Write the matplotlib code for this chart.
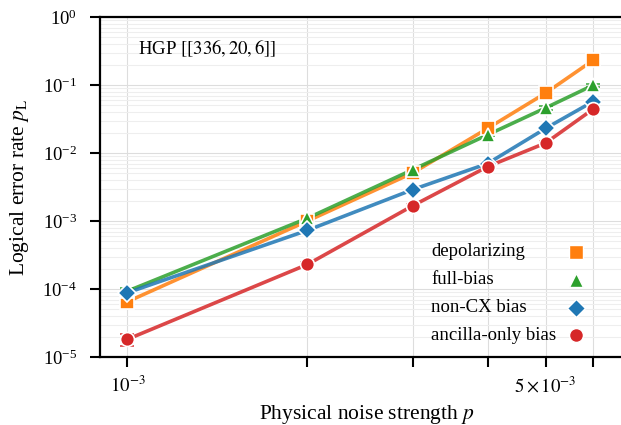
import numpy as np
import matplotlib
matplotlib.use("Agg")
import matplotlib.pyplot as plt
from matplotlib.lines import Line2D
from matplotlib.ticker import FixedLocator, FixedFormatter, LogLocator, NullFormatter

plt.rcParams['font.family'] = 'serif'
plt.rcParams['font.serif'] = ['Liberation Serif', 'DejaVu Serif']
plt.rcParams['mathtext.fontset'] = 'stix'

# data
p = [1e-3, 2e-3, 3e-3, 4e-3, 5e-3, 6e-3]
depol = [6.5e-5, 1.0e-3, 5.1e-3, 2.3e-2, 7.6e-2, 2.3e-1]
full_bias = [9.3e-5, 1.1e-3, 5.7e-3, 1.85e-2, 4.6e-2, 9.9e-2]
noncx_bias = [8.8e-5, 7.3e-4, 2.9e-3, 7.0e-3, 2.3e-2, 5.7e-2]
ancilla_bias = [1.82e-5, 2.3e-4, 1.68e-3, 6.3e-3, 1.4e-2, 4.4e-2]

depol_err = [8e-6, 6e-5, 3e-4, 1.2e-3, 4e-3, 1.2e-2]
full_err = [1e-5, 7e-5, 3e-4, 1e-3, 2.5e-3, 5e-3]
noncx_err = [1e-5, 5e-5, 2e-4, 4e-4, 1.2e-3, 3e-3]
ancilla_err = [3.5e-6, 2e-5, 1e-4, 4e-4, 8e-4, 2.5e-3]

labels = ['depolarizing', 'full-bias', 'non-CX bias', 'ancilla-only bias']
colors = ['#ff7f0e', '#2ca02c', '#1f77b4', '#d62728']
markers = ['s', '^', 'D', 'o']
msizes = [9.5, 10, 9, 10]

xticks = [1e-3, 2e-3, 3e-3, 4e-3, 5e-3, 6e-3]
xticklabels = [r'$10^{-3}$', '', '', '', r'$5\times10^{-3}$', '']

fig = plt.figure(figsize=(6.21, 4.25), dpi=100)
ax = fig.add_axes([100/621, 68/425, 533/621, 340/425])

series = [depol, full_bias, noncx_bias, ancilla_bias]
errs = [depol_err, full_err, noncx_err, ancilla_err]
for ys, es, lab, c, m, ms in zip(series, errs, labels, colors, markers, msizes):
    ax.errorbar(p, ys, yerr=es, color=c, lw=2.4, alpha=0.85, capsize=5,
                capthick=1.2, elinewidth=1.2, fmt='none', zorder=2)
    ax.plot(p, ys, '-', color=c, lw=2.6, alpha=0.85, zorder=3)
    ax.plot(p, ys, m, color=c, ms=ms, mec='white', mew=1.2, zorder=4)

ax.set_xscale('log')
ax.set_yscale('log')
ax.set_xlim(9e-4, 7e-3)
ax.set_ylim(1e-5, 1)

ax.xaxis.set_major_locator(FixedLocator(xticks))
ax.xaxis.set_major_formatter(FixedFormatter(xticklabels))
ax.xaxis.set_minor_locator(FixedLocator([]))
ax.yaxis.set_major_locator(LogLocator(base=10, numticks=10))
ax.yaxis.set_minor_locator(LogLocator(base=10, subs=np.arange(2, 10), numticks=10))
ax.yaxis.set_minor_formatter(NullFormatter())

ax.grid(True, which='major', color='#dddddd', lw=0.8)
ax.grid(True, which='minor', axis='y', color='#eeeeee', lw=0.8)
ax.set_axisbelow(True)

ax.tick_params(axis='both', which='major', direction='out', length=7.5, width=1.5,
               labelsize=13.5)
ax.tick_params(axis='x', which='major', pad=6)
ax.tick_params(axis='y', which='major', pad=9)
ax.tick_params(axis='y', which='minor', length=0)
for s in ['left', 'bottom', 'top']:
    ax.spines[s].set_linewidth(1.6)
ax.spines['right'].set_visible(False)

ax.set_xlabel(r'Physical noise strength $p$', fontsize=15.5, labelpad=5)
ax.set_ylabel(r'Logical error rate $p_\mathrm{L}$', fontsize=15.5, labelpad=8)

fig.text(138/621, 1 - 48/425, r'HGP $[[336, 20, 6]]$', fontsize=13.5,
         va='center', ha='left')

# legend: labels left-aligned, markers on the right
row_y = [252, 280, 308, 335]
for lab, c, m, ms, yy in zip(labels, colors, markers, msizes, row_y):
    fig.text(431/621, 1 - yy/425, lab, fontsize=13.5, va='center', ha='left')
    fig.add_artist(Line2D([576/621], [1 - yy/425], ls='none', marker=m, color=c,
                          ms=ms, mec='white', mew=1.0, transform=fig.transFigure))

fig.savefig('out.png', dpi=100)
